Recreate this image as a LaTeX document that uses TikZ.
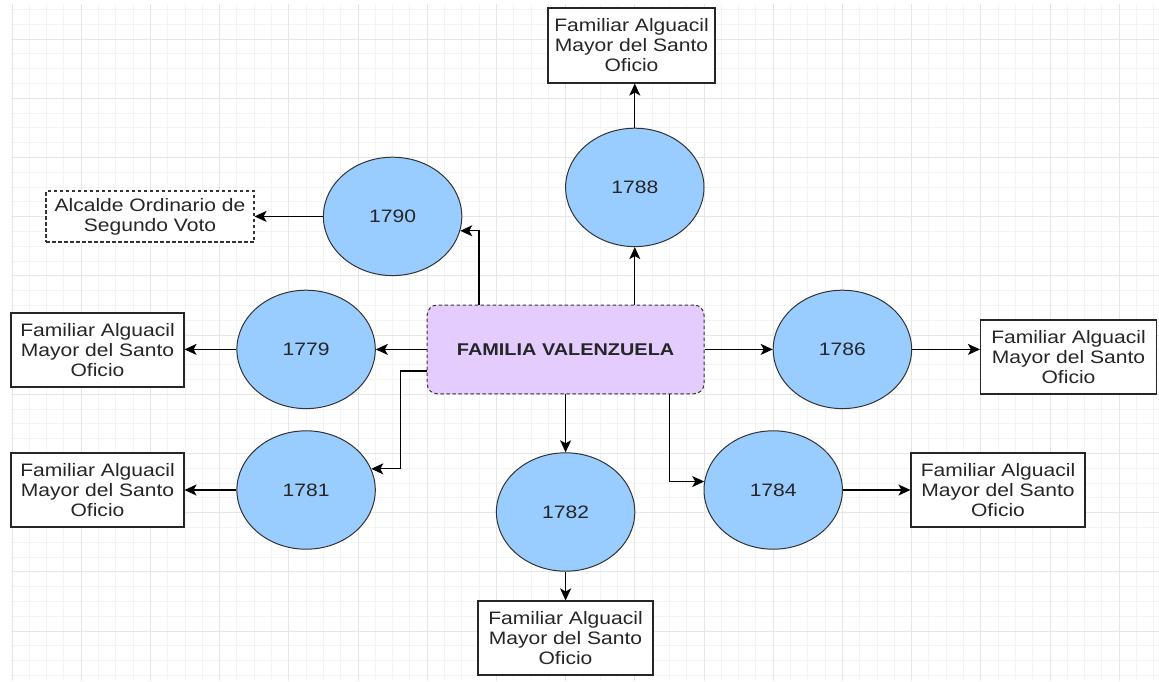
\documentclass[tikz,border=0pt]{standalone}
\usepackage{fontspec}
\setmainfont{Liberation Sans}[FakeStretch=1.17]
\usetikzlibrary{arrows.meta,calc,shapes.geometric}
\definecolor{ellfill}{HTML}{99CCFF}
\definecolor{famfill}{HTML}{E5CCFF}
\definecolor{gridmajor}{HTML}{E6E6E6}
\definecolor{gridminor}{HTML}{F4F4F4}
\definecolor{bordergray}{HTML}{333333}
\tikzset{
  yearell/.style={ellipse, draw=bordergray, line width=1pt, fill=ellfill,
    minimum width=138.4pt, minimum height=118.4pt, inner sep=0pt,
    font=\fontsize{18}{20}\selectfont, text=black!85},
  infobox/.style={rectangle, draw=black!85, line width=1.1pt, fill=white,
    inner sep=0pt, align=center, font=\fontsize{18}{20}\selectfont, text=black!85},
  dashbox/.style={infobox, draw=black!80, dash pattern=on 3.5pt off 2.5pt},
  fambox/.style={rectangle, rounded corners=10pt, draw=bordergray, line width=1pt,
    dash pattern=on 3.5pt off 2.5pt, fill=famfill, minimum width=276.8pt,
    minimum height=88.8pt, inner sep=0pt, font=\fontsize{17}{20}\selectfont\bfseries, text=black!85},
  arr/.style={-{Stealth[length=12pt,width=11pt,inset=3pt]}, line width=1.3pt, black},
  gminor/.style={gridminor, line width=1pt},
  gmajor/.style={gridmajor, line width=1pt}
}
\begin{document}
\begin{tikzpicture}[x=1pt,y=-1pt]
\useasboundingbox (0,0) rectangle (1159,681);
\fill[white] (0,0) rectangle (1159,681);
% grid
\foreach \i in {0,...,66} {\draw[gminor] ({12+17.3*\i},4) -- ({12+17.3*\i},681);}
\foreach \j in {-2,...,43} {\draw[gminor] (11,{39+14.8*\j}) -- (1159,{39+14.8*\j});}
\foreach \i in {0,...,16} {\draw[gmajor] ({12+69.2*\i},4) -- ({12+69.2*\i},681);}
\foreach \j in {0,...,10} {\draw[gmajor] (11,{39+59.2*\j}) -- (1159,{39+59.2*\j});}

% nodes
\node[fambox] (fam) at (565.6,349.4) {FAMILIA VALENZUELA};

\node[yearell] (e1790) at (392.6,216.4) {1790};
\node[yearell] (e1788) at (634.8,187.4) {1788};
\node[yearell] (e1779) at (306.1,349.4) {1779};
\node[yearell] (e1786) at (842.4,349.4) {1786};
\node[yearell] (e1781) at (306.1,490) {1781};
\node[yearell] (e1782) at (565.6,512) {1782};
\node[yearell] (e1784) at (773.2,490) {1784};

\node[infobox, minimum width=167pt, minimum height=75pt] (top) at (631.5,45.5)
  {Familiar Alguacil\\Mayor del Santo\\Oficio};
\node[dashbox, minimum width=208pt, minimum height=51pt] (alc) at (150,216.5)
  {Alcalde Ordinario de\\Segundo Voto};
\node[infobox, minimum width=173pt, minimum height=74pt] (l1) at (97.5,350)
  {Familiar Alguacil\\Mayor del Santo\\Oficio};
\node[infobox, minimum width=173pt, minimum height=74pt] (l2) at (97.5,490)
  {Familiar Alguacil\\Mayor del Santo\\Oficio};
\node[infobox, minimum width=176pt, minimum height=74pt] (r1) at (1068.5,357)
  {Familiar Alguacil\\Mayor del Santo\\Oficio};
\node[infobox, minimum width=174pt, minimum height=74pt] (r2) at (998,490)
  {Familiar Alguacil\\Mayor del Santo\\Oficio};
\node[infobox, minimum width=175pt, minimum height=74pt] (bot) at (565.5,638)
  {Familiar Alguacil\\Mayor del Santo\\Oficio};

% connectors
\draw[arr] ($(fam.north west)!0.188!(fam.north east)$) |- (e1790.-12.6);
\draw[arr] (e1788.south |- fam.north) -- (e1788.south);
\draw[arr] (e1788.north) -- (e1788.north |- top.south);
\draw[arr] (e1790.west) -- (e1790.west -| alc.east);
\draw[arr] (fam.west) -- (e1779.east);
\draw[arr] (e1779.west) -- (e1779.west -| l1.east);
\draw[arr] ($(fam.west)+(0,21.5)$) -- ++(-26,0) |- (e1781.18.6);
\draw[arr] (e1781.west) -- (e1781.west -| l2.east);
\draw[arr] (fam.south) -- (e1782.north);
\draw[arr] (e1782.south) -- (e1782.south |- bot.north);
\draw[arr] ($(fam.south west)!0.874!(fam.south east)$) |- (e1784.173.35);
\draw[arr] (e1784.east) -- (e1784.east -| r2.west);
\draw[arr] (fam.east) -- (e1786.west);
\draw[arr] (e1786.east) -- (e1786.east -| r1.west);
\end{tikzpicture}
\end{document}
